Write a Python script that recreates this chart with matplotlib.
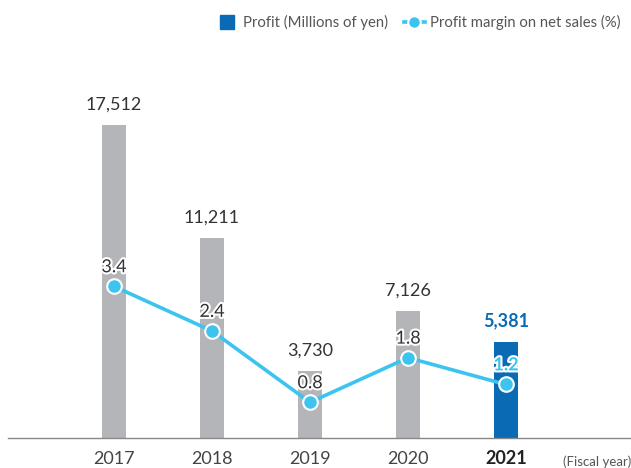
import matplotlib
matplotlib.use("Agg")
import matplotlib.pyplot as plt
import matplotlib.patheffects as pe
from matplotlib.lines import Line2D

plt.rcParams['font.family'] = ['Lato', 'DejaVu Sans']

years = ['2017', '2018', '2019', '2020', '2021']
profit = [17512, 11211, 3730, 7126, 5381]
margin = [3.4, 2.4, 0.8, 1.8, 1.2]

gray = '#b3b5b8'
blue = '#0a6ab4'
cyan = '#3cc3ef'
txt = '#333333'

fig = plt.figure(figsize=(6.31, 4.68), dpi=100)
ax = fig.add_axes([8 / 631, 30 / 468, 623 / 631, 408 / 468])
ax2 = ax.twinx()

x = list(range(len(years)))
colors = [gray] * 4 + [blue]
ax.bar(x, profit, width=0.245, color=colors, zorder=2)
ax.set_xlim(-1.082, 5.276)
ax.set_ylim(0, 22830)
ax2.set_ylim(0, 9.15)

for i, v in enumerate(profit):
    last = i == len(profit) - 1
    ax.annotate(f'{v:,}', (i, v), xytext=(0, 9), textcoords='offset points',
                ha='center', va='bottom', fontsize=13,
                color=blue if last else txt,
                fontweight='bold' if last else 'normal')

ax2.plot(x, margin, color=cyan, lw=2.6, marker='o', ms=10.5,
         mfc=cyan, mec='white', mew=1.5, zorder=3)
for i, v in enumerate(margin):
    last = i == len(margin) - 1
    ax2.annotate(f'{v}', (i, v), xytext=(0, 8), textcoords='offset points',
                 ha='center', va='bottom', fontsize=13,
                 color=cyan if last else txt,
                 fontweight='bold' if last else 'normal',
                 path_effects=[pe.withStroke(linewidth=3, foreground='white')])

for a in (ax, ax2):
    for s in a.spines.values():
        s.set_visible(False)
    a.set_yticks([])
ax.spines['bottom'].set_visible(True)
ax.spines['bottom'].set_color('#888888')
ax.spines['bottom'].set_linewidth(1)

ax.set_xticks(x)
ax.set_xticklabels(years, fontsize=13, color='#444444')
ax.get_xticklabels()[-1].set_fontweight('bold')
ax.get_xticklabels()[-1].set_color('#222222')
ax.tick_params(axis='x', length=0, pad=9)
ax.text(1.0, -0.058, '(Fiscal year)', transform=ax.transAxes, ha='right',
        va='center', fontsize=9.5, color='#555555')

handles = [Line2D([], [], ls='', marker='s', ms=10, color=blue,
                  label='Profit (Millions of yen)'),
           Line2D([], [], color=cyan, lw=2.6, marker='o', ms=9, mfc=cyan,
                  mec='white', mew=1.5, label='Profit margin on net sales (%)')]
fig.legend(handles=handles, loc='upper right', bbox_to_anchor=(1.0, 0.99),
           ncol=2, frameon=False, fontsize=10.7, labelcolor='#555555',
           handlelength=1.4, handletextpad=0.35, columnspacing=1.1,
           borderaxespad=0.3)

fig.savefig('out.png', dpi=100)
